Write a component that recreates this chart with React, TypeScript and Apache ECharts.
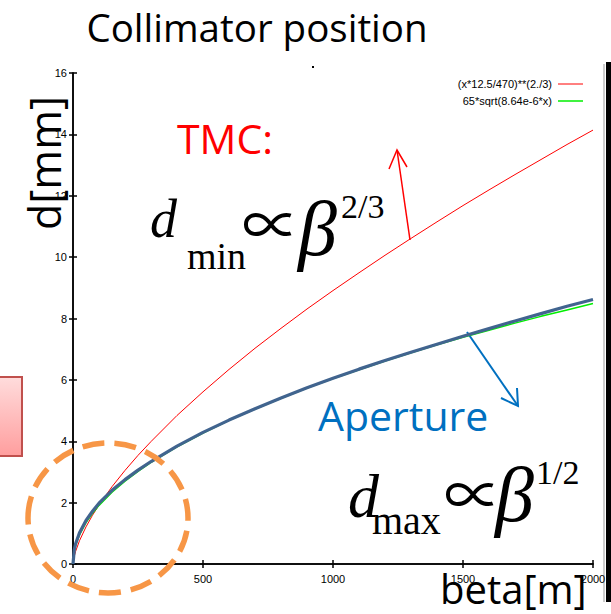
import React, { useEffect, useRef } from "react";
import * as echarts from "echarts";

// beta [m]
const betaValues = [0, 5, 10, 25, 50, 75, 100, 150, 200, 250, 300, 400, 500, 600, 700, 800, 900, 1000, 1100, 1200, 1300, 1400, 1500, 1600, 1700, 1800, 1900, 2000];
// (x*12.5/470)**(2./3)  (red)
const tmcValues = [0, 0.26, 0.41, 0.76, 1.21, 1.59, 1.92, 2.52, 3.05, 3.54, 3.99, 4.84, 5.61, 6.34, 7.03, 7.68, 8.31, 8.91, 9.49, 10.06, 10.61, 11.15, 11.68, 12.19, 12.69, 13.18, 13.67, 14.14];
// 65*sqrt(8.64e-6*x)  (green)
const sqrtValues = [0, 0.43, 0.6, 0.95, 1.35, 1.65, 1.91, 2.34, 2.7, 3.02, 3.31, 3.82, 4.27, 4.68, 5.05, 5.4, 5.73, 6.04, 6.33, 6.61, 6.88, 7.14, 7.39, 7.62, 7.85, 8.07, 8.28, 8.49];
// Aperture (blue, thick)
const apertureValues = [0, 0.47, 0.66, 1.02, 1.42, 1.72, 1.98, 2.4, 2.75, 3.06, 3.34, 3.84, 4.29, 4.69, 5.06, 5.41, 5.74, 6.05, 6.35, 6.63, 6.9, 7.16, 7.42, 7.67, 7.92, 8.16, 8.4, 8.62];

const legendLabels = ["(x*12.5/470)**(2./3)", "65*sqrt(8.64e-6*x)"];
const titleText = "Collimator position";
const yAxisTitle = "d[mm]";
const xAxisTitle = "beta[m]";

const TICK_FONT = "'Liberation Sans', sans-serif";
const SANS = "'Open Sans', sans-serif";
const SERIF = "'Liberation Serif', 'DejaVu Serif', serif";
const MATH = "'Noto Sans CJK SC', 'DejaVu Serif', serif";

export default function App() {
  const ref = useRef<HTMLDivElement>(null);
  useEffect(() => {
    if (!ref.current) return;
    const chart = echarts.init(ref.current, null, { renderer: "svg" });
    const pair = (vals: number[]) => betaValues.map((x, i) => [x, vals[i]]);
    const axisCommon = {
      type: "value" as const,
      splitLine: { show: false },
      axisLine: { show: true, lineStyle: { color: "#000", width: 1.5 } },
      axisTick: { show: true, inside: true, length: 4, lineStyle: { color: "#000", width: 1.5 } },
    };
    const txt = (text: string, x: number, y: number, size: number, opts: any = {}) => ({
      type: "text",
      x,
      y,
      rotation: opts.rotation || 0,
      z: 100,
      style: {
        text,
        fontSize: size,
        fontFamily: opts.family || SANS,
        fontStyle: opts.style || "normal",
        fill: opts.color || "#000",
        align: opts.align || "left",
        verticalAlign: "middle",
      },
    });
    const option: any = {
      animation: false,
      backgroundColor: "#fff",
      grid: { left: 73, right: 18, top: 73, bottom: 50 },
      xAxis: [
        {
          ...axisCommon,
          min: 0,
          max: 2000,
          interval: 500,
          axisLabel: { color: "#000", fontFamily: TICK_FONT, fontSize: 11, margin: 9, formatter: (v: number) => String(v) },
        },
        { ...axisCommon, position: "top", min: 0, max: 2000, interval: 500, axisLabel: { show: false } },
      ],
      yAxis: [
        {
          ...axisCommon,
          min: 0,
          max: 16,
          interval: 2,
          axisLabel: { color: "#000", fontFamily: TICK_FONT, fontSize: 11, margin: 6, formatter: (v: number) => String(v) },
        },
        { ...axisCommon, position: "right", min: 0, max: 16, interval: 2, axisLabel: { show: false } },
      ],
      series: [
        {
          type: "line",
          name: legendLabels[0],
          data: pair(tmcValues),
          showSymbol: false,
          lineStyle: { color: "#ff0000", width: 1 },
          z: 2,
        },
        {
          type: "line",
          name: legendLabels[1],
          data: pair(sqrtValues),
          showSymbol: false,
          lineStyle: { color: "#00ee00", width: 1.5 },
          z: 3,
        },
        {
          type: "line",
          name: "Aperture",
          data: pair(apertureValues),
          showSymbol: false,
          lineStyle: { color: "#41648F", width: 3.2 },
          z: 4,
        },
      ],
      graphic: [
        // legend
        txt(legendLabels[0], 552, 84, 11, { family: TICK_FONT, align: "right" }),
        { type: "line", shape: { x1: 558, y1: 84, x2: 583, y2: 84 }, style: { stroke: "#ff0000", lineWidth: 1 } },
        txt(legendLabels[1], 552, 101, 11, { family: TICK_FONT, align: "right" }),
        { type: "line", shape: { x1: 558, y1: 101, x2: 583, y2: 101 }, style: { stroke: "#00ee00", lineWidth: 1.5 } },
        // title & axis names
        txt(titleText, 257, 27, 38.5, { align: "center" }),
        txt(yAxisTitle, 44, 163, 43, { align: "center", rotation: Math.PI / 2 }),
        txt(xAxisTitle, 440, 588, 40),
        { type: "rect", shape: { x: 312, y: 66, width: 2, height: 2 }, style: { fill: "#000" } },
        // TMC annotation
        txt("TMC:", 177, 138, 41, { color: "#ff0000" }),
        txt("d", 150, 219, 54, { family: SERIF, style: "italic" }),
        txt("min", 187, 256, 38, { family: SERIF }),
        txt("\u221d", 242, 221, 58, { family: MATH }),
        txt("\u03b2", 298, 228, 78, { family: SERIF, style: "italic" }),
        txt("2/3", 341, 206, 34, { family: SERIF }),
        { type: "line", shape: { x1: 410, y1: 240, x2: 397, y2: 150 }, style: { stroke: "#ff0000", lineWidth: 1.5 } },
        { type: "polyline", shape: { points: [[389, 169], [397, 150], [407, 167]] }, style: { stroke: "#ff0000", lineWidth: 1.5, fill: "none" } },
        // Aperture annotation
        txt("Aperture", 318, 415, 41, { color: "#0070C0" }),
        { type: "line", shape: { x1: 467, y1: 332, x2: 518, y2: 406 }, style: { stroke: "#0070C0", lineWidth: 2 } },
        { type: "polyline", shape: { points: [[501, 398], [518, 406], [517, 388]] }, style: { stroke: "#0070C0", lineWidth: 2, fill: "none" } },
        txt("d", 348, 496, 62, { family: SERIF, style: "italic" }),
        txt("max", 372, 520, 40, { family: SERIF }),
        txt("\u221d", 444, 491, 58, { family: MATH }),
        txt("\u03b2", 495, 494, 78, { family: SERIF, style: "italic" }),
        txt("1/2", 536, 472, 34, { family: SERIF }),
        // orange dashed circle
        {
          type: "ellipse",
          z: 90,
          shape: { cx: 108, cy: 518, rx: 80, ry: 75 },
          style: { fill: "none", stroke: "#F79646", lineWidth: 5.5, lineDash: [22, 10] },
        },
        // pink box at the left edge
        {
          type: "rect",
          shape: { x: -3, y: 377, width: 25, height: 79 },
          style: {
            fill: new echarts.graphic.LinearGradient(0, 0, 0, 1, [
              { offset: 0, color: "#FFDCDC" },
              { offset: 1, color: "#FF9E9E" },
            ]),
            stroke: "#C0504D",
            lineWidth: 2,
          },
        },
        // right edge bar
        { type: "rect", shape: { x: 603.5, y: 64, width: 1, height: 538 }, style: { fill: "#999" } },
        { type: "rect", shape: { x: 606, y: 62, width: 5, height: 540 }, style: { fill: "#000" } },
      ],
    };
    chart.setOption(option);
    return () => chart.dispose();
  }, []);
  return <div ref={ref} style={{ position: "absolute", left: 0, top: 0, width: 611, height: 614 }} />;
}
